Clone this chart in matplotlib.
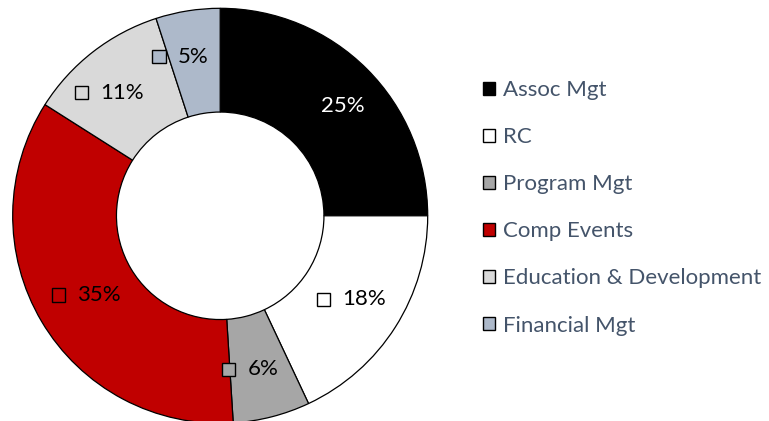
import matplotlib
matplotlib.use("Agg")
import numpy as np
import matplotlib.pyplot as plt
from matplotlib.patches import Patch, Rectangle
from matplotlib.offsetbox import AnnotationBbox, DrawingArea, TextArea, HPacker

plt.rcParams['font.family'] = ['Lato', 'DejaVu Sans']

categories = ['Assoc Mgt', 'RC', 'Program Mgt', 'Comp Events',
              'Education & Development', 'Financial Mgt']
shares = [25, 18, 6, 35, 11, 5]
colors = ['#000000', '#FFFFFF', '#A6A6A6', '#C00000', '#D9D9D9', '#ADB9CA']
label_colors = ['white', 'black', 'black', 'black', 'black', 'black']
# small nudges (points) so labels sit where Excel put them
label_nudge = [(0, 0), (0, 0), (-6, -2), (0, 0), (-11, 0), (-11, 4)]

fig = plt.figure(figsize=(7.69, 4.21), dpi=100)
ax = fig.add_axes([12.7 / 769, -2.3 / 421, 415 / 769, 415 / 421])

wedges, _ = ax.pie(shares, colors=colors, startangle=90, counterclock=False,
                   radius=1.0, wedgeprops=dict(width=0.5, edgecolor='black', linewidth=0.9))
ax.set_xlim(-1, 1)
ax.set_ylim(-1, 1)
ax.set_aspect('equal')
ax.axis('off')

# data labels: small colour key + percentage, centred in the ring
for w, val, col, tcol, nud in zip(wedges, shares, colors, label_colors, label_nudge):
    ang = np.deg2rad((w.theta1 + w.theta2) / 2)
    x, y = 0.75 * np.cos(ang), 0.75 * np.sin(ang)
    key = DrawingArea(9.5, 9.5, 0, 0)
    key.add_artist(Rectangle((0, 0), 9.5, 9.5, facecolor=col, edgecolor='black', linewidth=1.0))
    txt = TextArea(f'{val}%', textprops=dict(fontsize=16, color=tcol))
    box = HPacker(children=[key, txt], align='center', pad=0, sep=9)
    ab = AnnotationBbox(box, (x, y), xybox=nud, boxcoords='offset points',
                        frameon=False, box_alignment=(0.5, 0.5), pad=0)
    ax.add_artist(ab)

handles = [Patch(facecolor=c, edgecolor='black', linewidth=1.0) for c in colors]
leg = fig.legend(handles, categories, loc='upper left', bbox_to_anchor=(483 / 769, 1 - 80 / 421),
                 frameon=False, fontsize=16, handlelength=0.54, handleheight=0.54,
                 handletextpad=0.36, labelspacing=1.22, borderpad=0, borderaxespad=0)
for t in leg.get_texts():
    t.set_color('#44546A')

fig.savefig('out.png', dpi=100)
